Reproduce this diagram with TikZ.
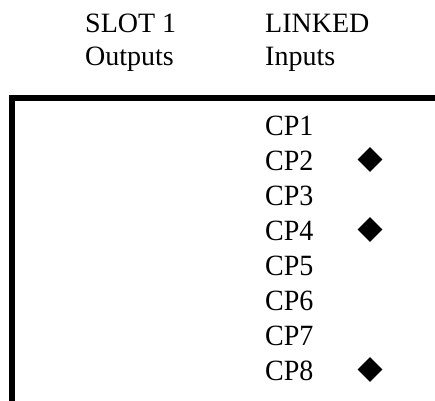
\documentclass[tikz,border=0pt]{standalone}
\usepackage{fontspec}
\setmainfont{Liberation Serif}
\usetikzlibrary{shapes.geometric}
\begin{document}
\begin{tikzpicture}[x=1pt,y=-1pt,
  lbl/.style={anchor=base west,inner sep=0pt,font=\fontsize{28}{30}\selectfont},
  dia/.style={diamond,fill=black,inner sep=0pt,minimum width=25pt,minimum height=25pt}]
\useasboundingbox (0,0) rectangle (435,400);
\node[lbl] (h1) at (85,32) {SLOT 1};
\node[lbl] (h2) at (85,65) {Outputs};
\node[lbl] (h3) at (265,32) {LINKED};
\node[lbl] (h4) at (265,65) {Inputs};
\coordinate (bl) at (11.5,403);
\coordinate (tl) at (11.5,98);
\coordinate (tr) at (438,98);
\draw[line width=6pt] (bl) -- (tl) -- (tr);
\foreach \i in {1,...,8}{
  \node[lbl] (cp\i) at (265,{135+35*(\i-1)}) {\scalebox{1}[1.05]{CP\i}};
}
\node[dia] (d2) at (370,{170-10.5}) {};
\node[dia] (d4) at (370,{240-10.5}) {};
\node[dia] (d8) at (370,{380-10.5}) {};
\end{tikzpicture}
\end{document}
